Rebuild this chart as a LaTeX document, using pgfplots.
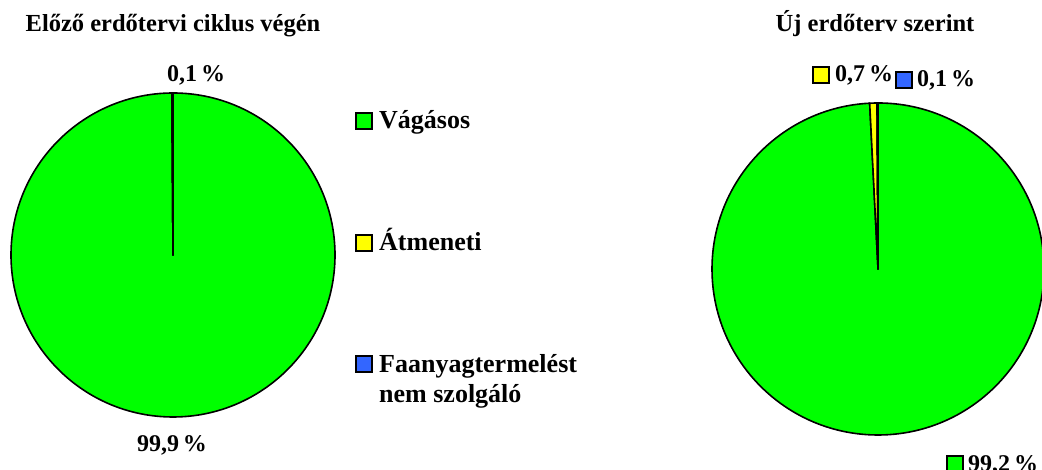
\documentclass[border=0pt]{standalone}
\usepackage{fontspec}
\setmainfont{Liberation Serif}
\usepackage{pgfplots}
\usepackage{pgfplotstable}
\pgfplotsset{compat=1.18}
\definecolor{pgreen}{RGB}{0,255,0}
\definecolor{pyellow}{RGB}{255,255,0}
\definecolor{pblue}{RGB}{51,102,255}

% shares in percent: Vágásos, Átmeneti, Faanyagtermelést nem szolgáló
\pgfplotstableread{
share
99.9
0.0
0.1
}\leftdata
\pgfplotstableread{
share
99.2
0.7
0.1
}\rightdata

\newcommand\slice[6]{%
  \filldraw[fill=#6,draw=black,line width=1.6bp,line join=round]
    (axis cs:#1,#2) -- ++(#4:#3) arc[start angle=#4,end angle=#5,radius=#3] -- cycle;}
\newcommand\legsq[3]{%
  \filldraw[fill=#3,draw=black,line width=1.3bp] (axis cs:#1,#2) rectangle (axis cs:#1+16,#2+16);}
\tikzset{lab/.style={font=\fontsize{24bp}{29bp}\selectfont\bfseries,inner sep=0pt},
  ttl/.style={font=\fontsize{24.5bp}{29bp}\selectfont\bfseries,inner sep=0pt},
  leg/.style={font=\fontsize{26bp}{30bp}\selectfont\bfseries,inner sep=0pt}}

\begin{document}
\begin{tikzpicture}
\pgfplotstablegetelem{0}{share}\of\leftdata \pgfmathsetmacro\LAa{90-3.6*\pgfplotsretval}
\pgfplotstablegetelem{1}{share}\of\leftdata \pgfmathsetmacro\LAb{\LAa-3.6*\pgfplotsretval}
\pgfplotstablegetelem{2}{share}\of\leftdata \pgfmathsetmacro\LAc{\LAb-3.6*\pgfplotsretval}
\pgfplotstablegetelem{0}{share}\of\rightdata \pgfmathsetmacro\RAa{90-3.6*\pgfplotsretval}
\pgfplotstablegetelem{1}{share}\of\rightdata \pgfmathsetmacro\RAb{\RAa-3.6*\pgfplotsretval}
\pgfplotstablegetelem{2}{share}\of\rightdata \pgfmathsetmacro\RAc{\RAb-3.6*\pgfplotsretval}
\begin{axis}[width=1042bp,height=470bp,scale only axis,
  xmin=0,xmax=1042,ymin=0,ymax=470,hide axis,clip=false]
\coordinate (BL) at (axis cs:0,0);
\coordinate (TR) at (axis cs:1042,470);
% left pie
\slice{173}{215}{162bp}{90}{\LAa}{pgreen}
\slice{173}{215}{162bp}{\LAa}{\LAb}{pyellow}
\slice{173}{215}{162bp}{\LAb}{\LAc}{pblue}
% right pie
\slice{878}{201}{166bp}{90}{\RAa}{pgreen}
\slice{878}{201}{166bp}{\RAa}{\RAb}{pyellow}
\slice{878}{201}{166bp}{\RAb}{\RAc}{pblue}
% titles
\node[ttl,anchor=base] at (axis cs:173,438) {Előző erdőtervi ciklus végén};
\node[ttl,anchor=base] at (axis cs:875,438) {Új erdőterv szerint};
% left data labels
\node[lab,anchor=base west] at (axis cs:167,388) {0,1\,\%};
\node[lab,anchor=base] at (axis cs:172,18) {99,9\,\%};
% legend
\legsq{356}{341}{pgreen}
\node[leg,anchor=base west] at (axis cs:379,341) {Vágásos};
\legsq{356}{219}{pyellow}
\node[leg,anchor=base west] at (axis cs:379,219) {Átmeneti};
\legsq{356}{98}{pblue}
\node[leg,anchor=base west] at (axis cs:379,97) {Faanyagtermelést};
\node[leg,anchor=base west] at (axis cs:379,67) {nem szolgáló};
% right data labels
\legsq{813}{387}{pyellow}
\node[lab,anchor=base west] at (axis cs:835,388) {0,7\,\%};
\legsq{896}{382}{pblue}
\node[lab,anchor=base west] at (axis cs:917,383) {0,1\,\%};
\legsq{947}{-2}{pgreen}
\node[lab,anchor=base west] at (axis cs:968,-2) {99,2\,\%};
\end{axis}
\pgfresetboundingbox
\useasboundingbox (BL) rectangle (TR);
\end{tikzpicture}
\end{document}
